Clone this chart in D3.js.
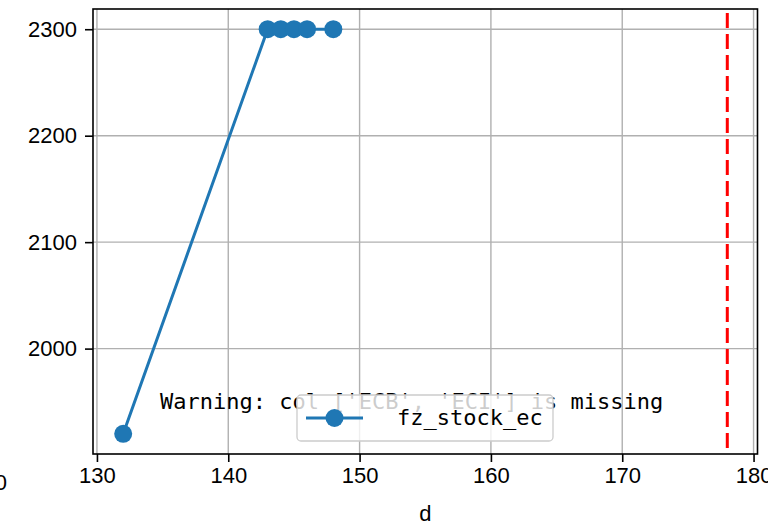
<!DOCTYPE html>
<html>
<head>
<meta charset="utf-8">
<script src="https://cdn.jsdelivr.net/npm/d3@7"></script>
<style>
  html, body { margin: 0; padding: 0; background: #fff; }
  svg { display: block; }
</style>
</head>
<body>
<svg id="chart" width="768" height="524"></svg>
<script>
// ---- data ----
const xValues = [132, 143, 144, 145, 146, 148];
const yValues = [1920, 2300, 2300, 2300, 2300, 2300];
const seriesName = "fz_stock_ec";
const refLineX = 178;
const xTicks = [130, 140, 150, 160, 170, 180];
const yTicks = [2000, 2100, 2200, 2300];
const xLabel = "d";
const warningText = "Warning: col ['ECB', 'ECI'] is missing";

// ---- layout ----
const W = 768, H = 524;
const plot = { left: 93, right: 757.5, top: 9, bottom: 454 };
const blue = "#1f77b4";
const tickFont = "'Liberation Sans', Arial, sans-serif";
const monoFont = "'DejaVu Sans Mono', 'Liberation Mono', monospace";

const svg = d3.select("#chart");

const x = d3.scaleLinear().domain([129.7, 180.3]).range([plot.left, plot.right]);
const y = d3.scaleLinear().domain([1901, 2319]).range([plot.bottom, plot.top]);

// grid
const grid = svg.append("g");
grid.selectAll("line.vg").data(xTicks).join("line")
  .attr("x1", d => x(d)).attr("x2", d => x(d))
  .attr("y1", plot.top).attr("y2", plot.bottom)
  .attr("stroke", "#b0b0b0").attr("stroke-width", 1.4);
grid.selectAll("line.hg").data(yTicks).join("line")
  .attr("x1", plot.left).attr("x2", plot.right)
  .attr("y1", d => y(d)).attr("y2", d => y(d))
  .attr("stroke", "#b0b0b0").attr("stroke-width", 1.4);

// axes
const xAxis = d3.axisBottom(x).tickValues(xTicks).tickSize(8).tickPadding(5).tickFormat(d3.format("d"));
const yAxis = d3.axisLeft(y).tickValues(yTicks).tickSize(8).tickPadding(8).tickFormat(d3.format("d"));

const gx = svg.append("g").attr("transform", `translate(0,${plot.bottom})`).call(xAxis);
const gy = svg.append("g").attr("transform", `translate(${plot.left},0)`).call(yAxis);
[gx, gy].forEach(g => {
  g.select(".domain").remove();
  g.selectAll(".tick line").attr("stroke", "#000").attr("stroke-width", 1.6);
  g.selectAll(".tick text").attr("fill", "#000")
    .style("font-family", tickFont).style("font-size", "22px");
});

// spines
svg.append("rect")
  .attr("x", plot.left).attr("y", plot.top)
  .attr("width", plot.right - plot.left).attr("height", plot.bottom - plot.top)
  .attr("fill", "none").attr("stroke", "#000").attr("stroke-width", 1.6);

// cropped leftmost tick label remnant
svg.append("text")
  .attr("x", 7).attr("y", 490).attr("text-anchor", "end")
  .style("font-family", tickFont).style("font-size", "22px")
  .text("120");

// x label
svg.append("text")
  .attr("x", (plot.left + plot.right) / 2).attr("y", 521)
  .attr("text-anchor", "middle")
  .style("font-family", tickFont).style("font-size", "22px")
  .text(xLabel);

// reference line
svg.append("line")
  .attr("x1", x(refLineX)).attr("x2", x(refLineX))
  .attr("y1", plot.top + 4).attr("y2", plot.bottom)
  .attr("stroke", "red").attr("stroke-width", 3)
  .attr("stroke-dasharray", "15,6");

// series line + markers
const pts = xValues.map((v, i) => [v, yValues[i]]);
svg.append("path")
  .datum(pts)
  .attr("d", d3.line().x(d => x(d[0])).y(d => y(d[1])))
  .attr("fill", "none").attr("stroke", blue).attr("stroke-width", 3);
svg.append("g").selectAll("circle").data(pts).join("circle")
  .attr("cx", d => x(d[0])).attr("cy", d => y(d[1])).attr("r", 9)
  .attr("fill", blue);

// warning text
svg.append("text")
  .attr("x", 160).attr("y", 409)
  .style("font-family", monoFont).style("font-size", "22px")
  .attr("fill", "#000")
  .text(warningText);

// legend
const lg = svg.append("g");
lg.append("rect")
  .attr("x", 297).attr("y", 395).attr("width", 256).attr("height", 46)
  .attr("rx", 4).attr("ry", 4)
  .attr("fill", "#fff").attr("fill-opacity", 0.8)
  .attr("stroke", "#cccccc").attr("stroke-width", 1.3);
lg.append("line")
  .attr("x1", 306).attr("x2", 363).attr("y1", 418).attr("y2", 418)
  .attr("stroke", blue).attr("stroke-width", 3);
lg.append("circle").attr("cx", 334.5).attr("cy", 418).attr("r", 9).attr("fill", blue);
lg.append("text")
  .attr("x", 397).attr("y", 425)
  .style("font-family", monoFont).style("font-size", "22px")
  .attr("fill", "#000")
  .text(seriesName);
</script>
</body>
</html>
